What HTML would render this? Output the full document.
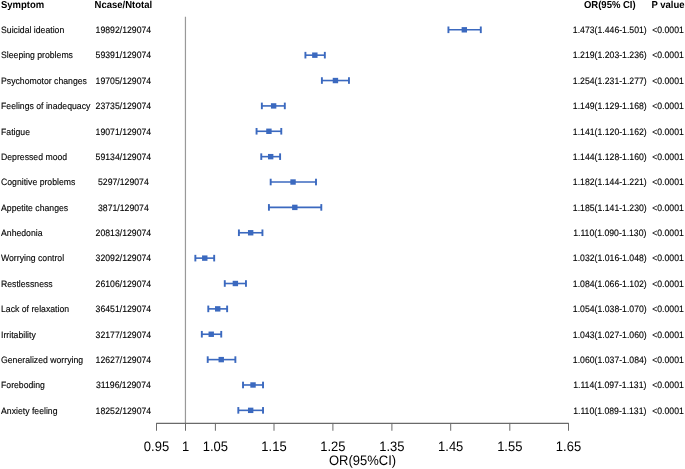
<!DOCTYPE html>
<html><head><meta charset="utf-8"><style>
html,body{margin:0;padding:0;background:#fff;}
body{width:685px;height:469px;overflow:hidden;}
svg{display:block;text-rendering:geometricPrecision;font-family:"Liberation Sans",sans-serif;}
.t{font-size:8.7px;fill:#000;stroke:#000;stroke-width:0.12px;}
.h{font-size:9.5px;font-weight:bold;fill:#000;stroke:#000;stroke-width:0px;}
.a{font-size:13px;fill:#000;}
</style></head><body>
<svg width="685" height="469" viewBox="0 0 685 469">
<defs><filter id="gs" x="0" y="0" width="685" height="469" filterUnits="userSpaceOnUse" color-interpolation-filters="sRGB"><feColorMatrix type="saturate" values="0"/></filter></defs>
<rect width="685" height="469" fill="#fff"/>

<line x1="185.45" y1="16.8" x2="185.45" y2="423.45" stroke="#999" stroke-width="1.2"/>
<line x1="156.5" y1="423.45" x2="568.499" y2="423.45" stroke="#6a6a6a" stroke-width="1.3"/>
<line x1="156.5" y1="422.95" x2="156.5" y2="430.75" stroke="#6a6a6a" stroke-width="1"/>
<line x1="185.5" y1="422.95" x2="185.5" y2="430.75" stroke="#6a6a6a" stroke-width="1"/>
<line x1="215.4" y1="422.95" x2="215.4" y2="430.75" stroke="#6a6a6a" stroke-width="1"/>
<line x1="274.0" y1="422.95" x2="274.0" y2="430.75" stroke="#6a6a6a" stroke-width="1"/>
<line x1="332.9" y1="422.95" x2="332.9" y2="430.75" stroke="#6a6a6a" stroke-width="1"/>
<line x1="391.9" y1="422.95" x2="391.9" y2="430.75" stroke="#6a6a6a" stroke-width="1"/>
<line x1="450.7" y1="422.95" x2="450.7" y2="430.75" stroke="#6a6a6a" stroke-width="1"/>
<line x1="509.8" y1="422.95" x2="509.8" y2="430.75" stroke="#6a6a6a" stroke-width="1"/>
<line x1="568.5" y1="422.95" x2="568.5" y2="430.75" stroke="#6a6a6a" stroke-width="1"/>
<line x1="448.43" y1="29.80" x2="480.80" y2="29.80" stroke="#3b69bf" stroke-width="1.6"/>
<rect x="447.48" y="26.50" width="1.9" height="6.6" fill="#3b69bf"/>
<rect x="479.85" y="26.50" width="1.9" height="6.6" fill="#3b69bf"/>
<rect x="461.62" y="27.10" width="5.4" height="5.4" fill="#3b69bf"/>
<line x1="305.41" y1="55.17" x2="324.83" y2="55.17" stroke="#3b69bf" stroke-width="1.6"/>
<rect x="304.46" y="51.87" width="1.9" height="6.6" fill="#3b69bf"/>
<rect x="323.88" y="51.87" width="1.9" height="6.6" fill="#3b69bf"/>
<rect x="312.13" y="52.47" width="5.4" height="5.4" fill="#3b69bf"/>
<line x1="321.89" y1="80.54" x2="348.96" y2="80.54" stroke="#3b69bf" stroke-width="1.6"/>
<rect x="320.94" y="77.24" width="1.9" height="6.6" fill="#3b69bf"/>
<rect x="348.01" y="77.24" width="1.9" height="6.6" fill="#3b69bf"/>
<rect x="332.73" y="77.84" width="5.4" height="5.4" fill="#3b69bf"/>
<line x1="261.85" y1="105.91" x2="284.81" y2="105.91" stroke="#3b69bf" stroke-width="1.6"/>
<rect x="260.90" y="102.61" width="1.9" height="6.6" fill="#3b69bf"/>
<rect x="283.86" y="102.61" width="1.9" height="6.6" fill="#3b69bf"/>
<rect x="270.93" y="103.21" width="5.4" height="5.4" fill="#3b69bf"/>
<line x1="256.56" y1="131.28" x2="281.28" y2="131.28" stroke="#3b69bf" stroke-width="1.6"/>
<rect x="255.61" y="127.98" width="1.9" height="6.6" fill="#3b69bf"/>
<rect x="280.33" y="127.98" width="1.9" height="6.6" fill="#3b69bf"/>
<rect x="266.22" y="128.58" width="5.4" height="5.4" fill="#3b69bf"/>
<line x1="261.27" y1="156.65" x2="280.10" y2="156.65" stroke="#3b69bf" stroke-width="1.6"/>
<rect x="260.32" y="153.35" width="1.9" height="6.6" fill="#3b69bf"/>
<rect x="279.15" y="153.35" width="1.9" height="6.6" fill="#3b69bf"/>
<rect x="267.98" y="153.95" width="5.4" height="5.4" fill="#3b69bf"/>
<line x1="270.68" y1="182.02" x2="316.00" y2="182.02" stroke="#3b69bf" stroke-width="1.6"/>
<rect x="269.73" y="178.72" width="1.9" height="6.6" fill="#3b69bf"/>
<rect x="315.05" y="178.72" width="1.9" height="6.6" fill="#3b69bf"/>
<rect x="290.35" y="179.32" width="5.4" height="5.4" fill="#3b69bf"/>
<line x1="268.92" y1="207.39" x2="321.30" y2="207.39" stroke="#3b69bf" stroke-width="1.6"/>
<rect x="267.97" y="204.09" width="1.9" height="6.6" fill="#3b69bf"/>
<rect x="320.35" y="204.09" width="1.9" height="6.6" fill="#3b69bf"/>
<rect x="292.11" y="204.69" width="5.4" height="5.4" fill="#3b69bf"/>
<line x1="238.90" y1="232.76" x2="262.44" y2="232.76" stroke="#3b69bf" stroke-width="1.6"/>
<rect x="237.95" y="229.46" width="1.9" height="6.6" fill="#3b69bf"/>
<rect x="261.49" y="229.46" width="1.9" height="6.6" fill="#3b69bf"/>
<rect x="247.97" y="230.06" width="5.4" height="5.4" fill="#3b69bf"/>
<line x1="195.35" y1="258.13" x2="214.18" y2="258.13" stroke="#3b69bf" stroke-width="1.6"/>
<rect x="194.40" y="254.83" width="1.9" height="6.6" fill="#3b69bf"/>
<rect x="213.23" y="254.83" width="1.9" height="6.6" fill="#3b69bf"/>
<rect x="202.06" y="255.43" width="5.4" height="5.4" fill="#3b69bf"/>
<line x1="224.77" y1="283.50" x2="245.96" y2="283.50" stroke="#3b69bf" stroke-width="1.6"/>
<rect x="223.82" y="280.20" width="1.9" height="6.6" fill="#3b69bf"/>
<rect x="245.01" y="280.20" width="1.9" height="6.6" fill="#3b69bf"/>
<rect x="232.67" y="280.80" width="5.4" height="5.4" fill="#3b69bf"/>
<line x1="208.29" y1="308.87" x2="227.13" y2="308.87" stroke="#3b69bf" stroke-width="1.6"/>
<rect x="207.34" y="305.57" width="1.9" height="6.6" fill="#3b69bf"/>
<rect x="226.18" y="305.57" width="1.9" height="6.6" fill="#3b69bf"/>
<rect x="215.01" y="306.17" width="5.4" height="5.4" fill="#3b69bf"/>
<line x1="201.82" y1="334.24" x2="221.24" y2="334.24" stroke="#3b69bf" stroke-width="1.6"/>
<rect x="200.87" y="330.94" width="1.9" height="6.6" fill="#3b69bf"/>
<rect x="220.29" y="330.94" width="1.9" height="6.6" fill="#3b69bf"/>
<rect x="208.54" y="331.54" width="5.4" height="5.4" fill="#3b69bf"/>
<line x1="207.71" y1="359.61" x2="235.37" y2="359.61" stroke="#3b69bf" stroke-width="1.6"/>
<rect x="206.76" y="356.31" width="1.9" height="6.6" fill="#3b69bf"/>
<rect x="234.42" y="356.31" width="1.9" height="6.6" fill="#3b69bf"/>
<rect x="218.54" y="356.91" width="5.4" height="5.4" fill="#3b69bf"/>
<line x1="243.02" y1="384.98" x2="263.03" y2="384.98" stroke="#3b69bf" stroke-width="1.6"/>
<rect x="242.07" y="381.68" width="1.9" height="6.6" fill="#3b69bf"/>
<rect x="262.08" y="381.68" width="1.9" height="6.6" fill="#3b69bf"/>
<rect x="250.33" y="382.28" width="5.4" height="5.4" fill="#3b69bf"/>
<line x1="238.31" y1="410.35" x2="263.03" y2="410.35" stroke="#3b69bf" stroke-width="1.6"/>
<rect x="237.36" y="407.05" width="1.9" height="6.6" fill="#3b69bf"/>
<rect x="262.08" y="407.05" width="1.9" height="6.6" fill="#3b69bf"/>
<rect x="247.97" y="407.65" width="5.4" height="5.4" fill="#3b69bf"/>
<g filter="url(#gs)">
<text class="h" transform="translate(1.00 7.70) scale(1 1.06)">Symptom</text>
<text class="h" transform="translate(123.40 7.70) scale(1 1.06)" text-anchor="middle">Ncase/Ntotal</text>
<text class="h" transform="translate(609.80 7.70) scale(1 1.06)" text-anchor="middle">OR(95% CI)</text>
<text class="h" transform="translate(668.00 7.70) scale(1 1.06)" text-anchor="middle">P value</text>
<text class="a" transform="translate(156.50 450.50) scale(1 1.06)" text-anchor="middle">0.95</text>
<text class="a" transform="translate(185.50 450.50) scale(1 1.06)" text-anchor="middle">1</text>
<text class="a" transform="translate(215.40 450.50) scale(1 1.06)" text-anchor="middle">1.05</text>
<text class="a" transform="translate(274.00 450.50) scale(1 1.06)" text-anchor="middle">1.15</text>
<text class="a" transform="translate(332.90 450.50) scale(1 1.06)" text-anchor="middle">1.25</text>
<text class="a" transform="translate(391.90 450.50) scale(1 1.06)" text-anchor="middle">1.35</text>
<text class="a" transform="translate(450.70 450.50) scale(1 1.06)" text-anchor="middle">1.45</text>
<text class="a" transform="translate(509.80 450.50) scale(1 1.06)" text-anchor="middle">1.55</text>
<text class="a" transform="translate(568.50 450.50) scale(1 1.06)" text-anchor="middle">1.65</text>
<text class="a" transform="translate(362.50 465.30) scale(1 1.06)" text-anchor="middle">OR(95%CI)</text>
<text class="t" transform="translate(1.00 33.10) scale(1 1.06)">Suicidal ideation</text>
<text class="t" transform="translate(123.40 33.10) scale(1 1.06)" text-anchor="middle">19892/129074</text>
<text class="t" transform="translate(609.80 33.10) scale(1 1.06)" text-anchor="middle">1.473(1.446-1.501)</text>
<text class="t" transform="translate(668.00 33.10) scale(1 1.06)" text-anchor="middle">&lt;0.0001</text>
<text class="t" transform="translate(1.00 58.47) scale(1 1.06)">Sleeping problems</text>
<text class="t" transform="translate(123.40 58.47) scale(1 1.06)" text-anchor="middle">59391/129074</text>
<text class="t" transform="translate(609.80 58.47) scale(1 1.06)" text-anchor="middle">1.219(1.203-1.236)</text>
<text class="t" transform="translate(668.00 58.47) scale(1 1.06)" text-anchor="middle">&lt;0.0001</text>
<text class="t" transform="translate(1.00 83.84) scale(1 1.06)">Psychomotor changes</text>
<text class="t" transform="translate(123.40 83.84) scale(1 1.06)" text-anchor="middle">19705/129074</text>
<text class="t" transform="translate(609.80 83.84) scale(1 1.06)" text-anchor="middle">1.254(1.231-1.277)</text>
<text class="t" transform="translate(668.00 83.84) scale(1 1.06)" text-anchor="middle">&lt;0.0001</text>
<text class="t" transform="translate(1.00 109.21) scale(1 1.06)">Feelings of inadequacy</text>
<text class="t" transform="translate(123.40 109.21) scale(1 1.06)" text-anchor="middle">23735/129074</text>
<text class="t" transform="translate(609.80 109.21) scale(1 1.06)" text-anchor="middle">1.149(1.129-1.168)</text>
<text class="t" transform="translate(668.00 109.21) scale(1 1.06)" text-anchor="middle">&lt;0.0001</text>
<text class="t" transform="translate(1.00 134.58) scale(1 1.06)">Fatigue</text>
<text class="t" transform="translate(123.40 134.58) scale(1 1.06)" text-anchor="middle">19071/129074</text>
<text class="t" transform="translate(609.80 134.58) scale(1 1.06)" text-anchor="middle">1.141(1.120-1.162)</text>
<text class="t" transform="translate(668.00 134.58) scale(1 1.06)" text-anchor="middle">&lt;0.0001</text>
<text class="t" transform="translate(1.00 159.95) scale(1 1.06)">Depressed mood</text>
<text class="t" transform="translate(123.40 159.95) scale(1 1.06)" text-anchor="middle">59134/129074</text>
<text class="t" transform="translate(609.80 159.95) scale(1 1.06)" text-anchor="middle">1.144(1.128-1.160)</text>
<text class="t" transform="translate(668.00 159.95) scale(1 1.06)" text-anchor="middle">&lt;0.0001</text>
<text class="t" transform="translate(1.00 185.32) scale(1 1.06)">Cognitive problems</text>
<text class="t" transform="translate(123.40 185.32) scale(1 1.06)" text-anchor="middle">5297/129074</text>
<text class="t" transform="translate(609.80 185.32) scale(1 1.06)" text-anchor="middle">1.182(1.144-1.221)</text>
<text class="t" transform="translate(668.00 185.32) scale(1 1.06)" text-anchor="middle">&lt;0.0001</text>
<text class="t" transform="translate(1.00 210.69) scale(1 1.06)">Appetite changes</text>
<text class="t" transform="translate(123.40 210.69) scale(1 1.06)" text-anchor="middle">3871/129074</text>
<text class="t" transform="translate(609.80 210.69) scale(1 1.06)" text-anchor="middle">1.185(1.141-1.230)</text>
<text class="t" transform="translate(668.00 210.69) scale(1 1.06)" text-anchor="middle">&lt;0.0001</text>
<text class="t" transform="translate(1.00 236.06) scale(1 1.06)">Anhedonia</text>
<text class="t" transform="translate(123.40 236.06) scale(1 1.06)" text-anchor="middle">20813/129074</text>
<text class="t" transform="translate(609.80 236.06) scale(1 1.06)" text-anchor="middle">1.110(1.090-1.130)</text>
<text class="t" transform="translate(668.00 236.06) scale(1 1.06)" text-anchor="middle">&lt;0.0001</text>
<text class="t" transform="translate(1.00 261.43) scale(1 1.06)">Worrying control</text>
<text class="t" transform="translate(123.40 261.43) scale(1 1.06)" text-anchor="middle">32092/129074</text>
<text class="t" transform="translate(609.80 261.43) scale(1 1.06)" text-anchor="middle">1.032(1.016-1.048)</text>
<text class="t" transform="translate(668.00 261.43) scale(1 1.06)" text-anchor="middle">&lt;0.0001</text>
<text class="t" transform="translate(1.00 286.80) scale(1 1.06)">Restlessness</text>
<text class="t" transform="translate(123.40 286.80) scale(1 1.06)" text-anchor="middle">26106/129074</text>
<text class="t" transform="translate(609.80 286.80) scale(1 1.06)" text-anchor="middle">1.084(1.066-1.102)</text>
<text class="t" transform="translate(668.00 286.80) scale(1 1.06)" text-anchor="middle">&lt;0.0001</text>
<text class="t" transform="translate(1.00 312.17) scale(1 1.06)">Lack of relaxation</text>
<text class="t" transform="translate(123.40 312.17) scale(1 1.06)" text-anchor="middle">36451/129074</text>
<text class="t" transform="translate(609.80 312.17) scale(1 1.06)" text-anchor="middle">1.054(1.038-1.070)</text>
<text class="t" transform="translate(668.00 312.17) scale(1 1.06)" text-anchor="middle">&lt;0.0001</text>
<text class="t" transform="translate(1.00 337.54) scale(1 1.06)">Irritability</text>
<text class="t" transform="translate(123.40 337.54) scale(1 1.06)" text-anchor="middle">32177/129074</text>
<text class="t" transform="translate(609.80 337.54) scale(1 1.06)" text-anchor="middle">1.043(1.027-1.060)</text>
<text class="t" transform="translate(668.00 337.54) scale(1 1.06)" text-anchor="middle">&lt;0.0001</text>
<text class="t" transform="translate(1.00 362.91) scale(1 1.06)">Generalized worrying</text>
<text class="t" transform="translate(123.40 362.91) scale(1 1.06)" text-anchor="middle">12627/129074</text>
<text class="t" transform="translate(609.80 362.91) scale(1 1.06)" text-anchor="middle">1.060(1.037-1.084)</text>
<text class="t" transform="translate(668.00 362.91) scale(1 1.06)" text-anchor="middle">&lt;0.0001</text>
<text class="t" transform="translate(1.00 388.28) scale(1 1.06)">Foreboding</text>
<text class="t" transform="translate(123.40 388.28) scale(1 1.06)" text-anchor="middle">31196/129074</text>
<text class="t" transform="translate(609.80 388.28) scale(1 1.06)" text-anchor="middle">1.114(1.097-1.131)</text>
<text class="t" transform="translate(668.00 388.28) scale(1 1.06)" text-anchor="middle">&lt;0.0001</text>
<text class="t" transform="translate(1.00 413.65) scale(1 1.06)">Anxiety feeling</text>
<text class="t" transform="translate(123.40 413.65) scale(1 1.06)" text-anchor="middle">18252/129074</text>
<text class="t" transform="translate(609.80 413.65) scale(1 1.06)" text-anchor="middle">1.110(1.089-1.131)</text>
<text class="t" transform="translate(668.00 413.65) scale(1 1.06)" text-anchor="middle">&lt;0.0001</text>
</g>
</svg></body></html>
